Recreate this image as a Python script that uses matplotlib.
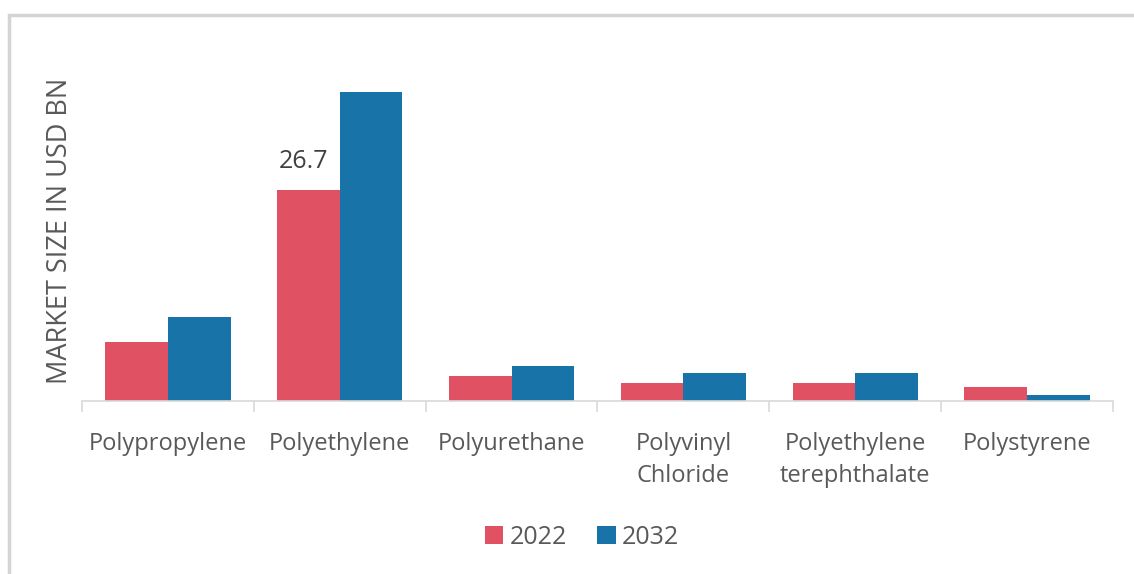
#!/usr/bin/env python3
"""Market size by plastic type, 2022 vs 2032 (grouped bars)."""

import matplotlib
matplotlib.use("Agg")
import matplotlib.pyplot as plt
from matplotlib.patches import Rectangle
import numpy as np

CATEGORIES = [
    "Polypropylene",
    "Polyethylene",
    "Polyurethane",
    "Polyvinyl\nChloride",
    "Polyethylene\nterephthalate",
    "Polystyrene",
]
VALUES_2022 = [7.5, 26.7, 3.2, 2.3, 2.3, 1.8]
VALUES_2032 = [10.6, 39.1, 4.4, 3.5, 3.5, 0.8]
SERIES = ["2022", "2032"]

RED = "#e05263"
BLUE = "#1873a8"
TEXT = "#595959"

plt.rcParams["font.family"] = ["Open Sans", "DejaVu Sans"]

fig = plt.figure(figsize=(11.34, 5.74), dpi=100)
# light frame around the chart area
fig.patches.append(Rectangle((9 / 1134, -0.1), 1.2, 1 - 15 / 574 + 0.1,
                             transform=fig.transFigure, fill=False,
                             edgecolor="#d4d4d4", linewidth=2.5))

ax = fig.add_axes([82 / 1134, 1 - 401 / 574, (1113 - 82) / 1134, 341 / 574])

x = np.arange(len(CATEGORIES))
w = 0.365
ax.bar(x - w / 2, VALUES_2022, w, color=RED, label=SERIES[0])
ax.bar(x + w / 2, VALUES_2032, w, color=BLUE, label=SERIES[1])

ax.text(x[1] - w / 2 - 0.03, VALUES_2022[1] + 2.1, f"{VALUES_2022[1]}",
        ha="center", va="bottom", fontsize=18, color="#404040")

ax.set_xlim(-0.5, len(CATEGORIES) - 0.5)
ax.set_ylim(0, 43.2)
ax.set_yticks([])
for s in ["top", "right", "left"]:
    ax.spines[s].set_visible(False)
ax.spines["bottom"].set_color("#d9d9d9")
ax.spines["bottom"].set_linewidth(1.2)

ax.set_xticks(x)
ax.set_xticklabels(CATEGORIES, fontsize=17, color=TEXT, linespacing=1.45)
ax.tick_params(axis="x", which="major", length=0, pad=22)
ax.set_xticks(np.arange(-0.5, len(CATEGORIES)), minor=True)
ax.tick_params(axis="x", which="minor", length=8, color="#d9d9d9", width=1.2)

ax.set_ylabel("MARKET SIZE IN USD BN", fontsize=19.5, color=TEXT, labelpad=6)

ax.legend(loc="center", bbox_to_anchor=(0.485, -0.4), ncol=2,
          frameon=False, fontsize=18, handlelength=0.75, handleheight=0.75,
          handletextpad=0.25, columnspacing=1.2, labelcolor=TEXT)

fig.savefig("out.png", dpi=100)
